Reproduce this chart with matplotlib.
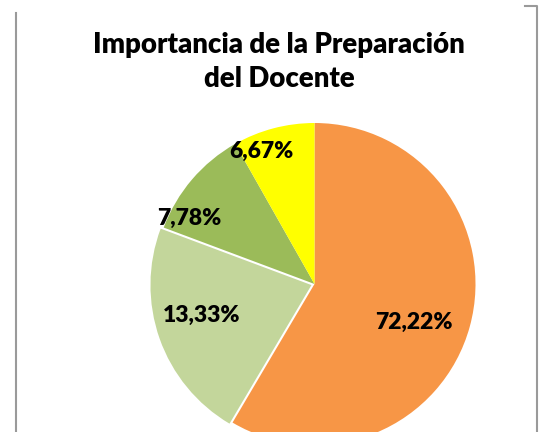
import numpy as np
import matplotlib
matplotlib.use("Agg")
import matplotlib.pyplot as plt
from matplotlib.lines import Line2D

# Data (slice sizes; labels as printed)
categories = ["A", "B", "C", "D"]
slice_sizes = [58.5, 22.2, 11.1, 8.2]
label_texts = ["72,22%", "13,33%", "7,78%", "6,67%"]
colors = ["#F79646", "#C3D69B", "#9BBB59", "#FFFF00"]
explode = [0, 0.02, 0, 0]
label_dist = [0.66, 0.71, 0.88, 0.89]
label_shift = [-6, -4, 13, 7]  # degrees, label placement tweak
title = "Importancia de la Preparación\ndel Docente"

W, H = 539, 432
fig = plt.figure(figsize=(W / 100, H / 100), dpi=100)

# pie axes: centre (314.5, 285) px from top-left, radius 160 px
cx, cy, R = 314.5, 284.0, 161.0
half = 170.0
ax = fig.add_axes([(cx - half) / W, (H - cy - half) / H, 2 * half / W, 2 * half / H])

wedges, _ = ax.pie(slice_sizes, colors=colors, startangle=90, counterclock=False,
                   explode=explode, radius=1.0, wedgeprops=dict(linewidth=0))
lim = half / R
ax.set_xlim(-lim, lim)
ax.set_ylim(-lim, lim)
ax.set_aspect("equal")
ax.axis("off")
for w in wedges:
    w.set_clip_on(False)

for w, txt, d, s in zip(wedges, label_texts, label_dist, label_shift):
    mid = np.deg2rad((w.theta1 + w.theta2) / 2 + s)
    ax.text(d * np.cos(mid) + w.center[0], d * np.sin(mid) + w.center[1], txt,
            ha="center", va="center", fontsize=16.5, fontweight="heavy",
            family="Lato", color="black")

fig.text(279 / W, 1 - 62 / H, title, ha="center", va="center", fontsize=19.8,
         fontweight="heavy", family="Lato", linespacing=1.4)

# frame lines
gray = "#9A9A9A"
fig.add_artist(Line2D([15.5 / W, 15.5 / W], [0, 1 - 13 / H], color=gray, lw=1.5,
                      transform=fig.transFigure))
fig.add_artist(Line2D([525 / W, 537 / W, 537 / W], [1 - 6 / H, 1 - 6 / H, 0],
                      color=gray, lw=1.5, transform=fig.transFigure))

fig.savefig("out.png", dpi=100)
